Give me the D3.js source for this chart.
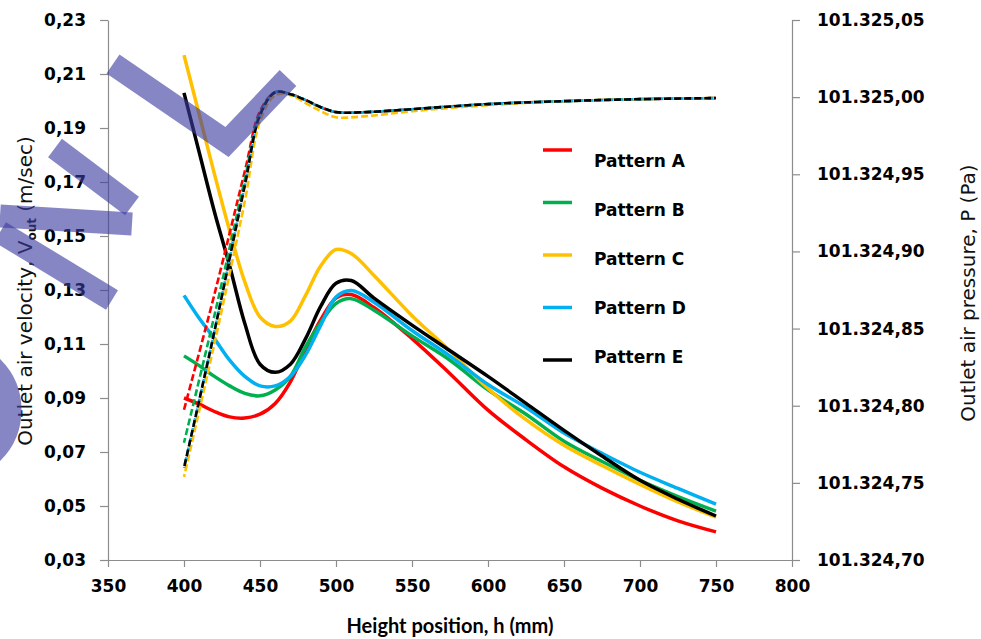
<!DOCTYPE html>
<html>
<head>
<meta charset="utf-8">
<script src="https://cdn.jsdelivr.net/npm/d3@7"></script>
<style>
  body { margin: 0; background: #fff; }
  svg { display: block; }
  .axis path, .axis line { stroke: #8c8c8c; stroke-width: 1.2; }
  .axis text { font-family: "DejaVu Sans", sans-serif; font-weight: bold; font-size: 17px; fill: #000; }
</style>
</head>
<body>
<svg id="chart" width="981" height="639"></svg>
<script>
// Height positions (mm) used for the velocity curves
const heights = [400, 410, 420, 430, 440, 450, 460, 470, 480, 490, 500, 510, 525, 550, 575, 600, 625, 650, 675, 700, 725, 750];

// Outlet air velocity (m/sec), one array per pattern
const velA = [0.090, 0.0877, 0.085, 0.083, 0.0826, 0.084, 0.088, 0.096, 0.108, 0.119, 0.127, 0.1283, 0.1235, 0.112, 0.099, 0.0855, 0.0745, 0.0645, 0.0566, 0.050, 0.0445, 0.0404];
const velB = [0.1056, 0.102, 0.098, 0.0945, 0.0917, 0.0908, 0.093, 0.098, 0.109, 0.118, 0.125, 0.1268, 0.1225, 0.113, 0.104, 0.093, 0.084, 0.074, 0.0665, 0.0595, 0.0535, 0.0481];
const velC = [0.217, 0.195, 0.173, 0.152, 0.133, 0.120, 0.1165, 0.1185, 0.128, 0.139, 0.145, 0.1435, 0.1354, 0.1205, 0.1075, 0.0935, 0.082, 0.0725, 0.065, 0.058, 0.0515, 0.0459];
const velD = [0.128, 0.1195, 0.112, 0.104, 0.098, 0.0945, 0.0945, 0.098, 0.106, 0.117, 0.1274, 0.1298, 0.1255, 0.115, 0.1055, 0.095, 0.0865, 0.077, 0.0695, 0.0625, 0.0565, 0.0507];
const velE = [0.203, 0.181, 0.159, 0.139, 0.1176, 0.1025, 0.0995, 0.1025, 0.112, 0.124, 0.1325, 0.1335, 0.127, 0.117, 0.1075, 0.098, 0.088, 0.078, 0.0685, 0.0595, 0.0525, 0.0463];

// Height positions (mm) used for the pressure curves
const pHeights = [400, 420, 440, 450, 460, 470, 480, 490, 500, 520, 550, 600, 650, 700, 750];

// Outlet air pressure (Pa), dashed curves
const presA = [101324.7974, 101324.8721, 101324.9519, 101324.9909, 101325.0032, 101325.0019, 101324.9981, 101324.9935, 101324.9903, 101324.9903, 101324.9922, 101324.9955, 101324.9974, 101324.9987, 101324.9994];
const presB = [101324.7760, 101324.8584, 101324.9468, 101324.9896, 101325.0032, 101325.0019, 101324.9981, 101324.9935, 101324.9903, 101324.9903, 101324.9922, 101324.9955, 101324.9974, 101324.9987, 101324.9994];
const presC = [101324.7539, 101324.8403, 101324.9325, 101324.9844, 101325.0013, 101325.0013, 101324.9961, 101324.9909, 101324.9870, 101324.9877, 101324.9909, 101324.9948, 101324.9974, 101324.9987, 101324.9994];
const presD = [101324.7597, 101324.8481, 101324.9429, 101324.9883, 101325.0032, 101325.0019, 101324.9981, 101324.9935, 101324.9903, 101324.9903, 101324.9922, 101324.9955, 101324.9974, 101324.9987, 101324.9994];
const presE = [101324.7597, 101324.8481, 101324.9429, 101324.9883, 101325.0032, 101325.0019, 101324.9981, 101324.9935, 101324.9903, 101324.9903, 101324.9922, 101324.9955, 101324.9974, 101324.9987, 101324.9994];

const patterns = ["Pattern A", "Pattern B", "Pattern C", "Pattern D", "Pattern E"];
const colors = ["#ff0000", "#00b050", "#ffc000", "#00b0f0", "#000000"];

const hTicks = [350, 400, 450, 500, 550, 600, 650, 700, 750, 800];
const velTicks = [0.03, 0.05, 0.07, 0.09, 0.11, 0.13, 0.15, 0.17, 0.19, 0.21, 0.23];
const presTicks = [101324.70, 101324.75, 101324.80, 101324.85, 101324.90, 101324.95, 101325.00, 101325.05];

const velSeries = [velA, velB, velC, velD, velE];
const presSeries = [presA, presB, presC, presD, presE];

const svg = d3.select("#chart");
const plotLeft = 108, plotRight = 792, plotTop = 20, plotBottom = 560;

const x = d3.scaleLinear().domain([350, 800]).range([plotLeft, plotRight]);
const yV = d3.scaleLinear().domain([0.03, 0.23]).range([plotBottom, plotTop]);
const yP = d3.scaleLinear().domain([101324.70, 101325.05]).range([plotBottom, plotTop]);

const euro = d3.formatLocale({ decimal: ",", thousands: ".", grouping: [3], currency: ["", ""] });

// axes
svg.append("g").attr("class", "axis")
  .attr("transform", `translate(0,${plotBottom})`)
  .call(d3.axisBottom(x).tickValues(hTicks).tickSize(7).tickSizeOuter(0).tickPadding(13).tickFormat(d3.format("d")));

svg.append("g").attr("class", "axis")
  .attr("transform", `translate(${plotLeft},0)`)
  .call(d3.axisLeft(yV).tickValues(velTicks).tickSize(8).tickSizeOuter(0).tickPadding(14)
    .tickFormat(d => d3.format(".2f")(d).replace(".", ",")));

svg.append("g").attr("class", "axis")
  .attr("transform", `translate(${plotRight},0)`)
  .call(d3.axisRight(yP).tickValues(presTicks).tickSize(8).tickSizeOuter(0).tickPadding(17)
    .tickFormat(euro.format(",.2f")));

// curves (smoothed like the spreadsheet original)
const velLine = d3.line().x((d, i) => x(heights[i])).y(d => yV(d)).curve(d3.curveCatmullRom.alpha(0.5));
const presLine = d3.line().x((d, i) => x(pHeights[i])).y(d => yP(d)).curve(d3.curveCatmullRom.alpha(0.5));

svg.append("g").selectAll("path")
  .data(velSeries)
  .join("path")
    .attr("d", velLine)
    .attr("fill", "none")
    .attr("stroke", (d, i) => colors[i])
    .attr("stroke-width", 3.5);

svg.append("g").selectAll("path")
  .data(presSeries)
  .join("path")
    .attr("d", presLine)
    .attr("fill", "none")
    .attr("stroke", (d, i) => colors[i])
    .attr("stroke-width", 2.6)
    .attr("stroke-dasharray", "7,3")
    .attr("stroke-dashoffset", (d, i) => i * 2);

// legend
const legend = svg.append("g").selectAll("g")
  .data(patterns)
  .join("g");
legend.append("line")
  .attr("x1", 543).attr("x2", 572)
  .attr("y1", (d, i) => 150 + i * 52.5).attr("y2", (d, i) => 150 + i * 52.5)
  .attr("stroke", (d, i) => colors[i])
  .attr("stroke-width", 3.5);
legend.append("text")
  .attr("x", 594)
  .attr("y", (d, i) => 161 + i * 49)
  .attr("dy", "0.36em")
  .style("font-family", "'DejaVu Sans', sans-serif")
  .style("font-weight", "bold")
  .style("font-size", "17px")
  .text(d => d);

// axis titles
const yTitle = svg.append("text")
  .attr("transform", "translate(32,291) rotate(-90)")
  .attr("text-anchor", "middle")
  .style("font-family", "'DejaVu Sans', sans-serif")
  .style("font-size", "20px")
  .style("fill", "#111");
yTitle.append("tspan").text("Outlet air velocity, V");
yTitle.append("tspan").text("out").style("font-size", "12px").style("font-weight", "bold").attr("dy", 4);
yTitle.append("tspan").text(" (m/sec)").attr("dy", -4);

svg.append("text")
  .attr("transform", "translate(975,293) rotate(-90)")
  .attr("text-anchor", "middle")
  .style("font-family", "'DejaVu Sans', sans-serif")
  .style("font-size", "20px")
  .style("fill", "#111")
  .text("Outlet air pressure, P (Pa)");

svg.append("text")
  .attr("x", 450).attr("y", 633)
  .attr("text-anchor", "middle")
  .style("font-family", "Lato, sans-serif")
  .style("font-weight", "bold")
  .style("font-size", "20px")
  .text("Height position, h (mm)");

// watermark strokes
const mark = svg.append("g")
  .attr("fill", "none")
  .attr("stroke", "#3c3ca0")
  .attr("stroke-opacity", 0.62)
  .attr("stroke-width", 23);
mark.append("polyline").attr("points", "113,64 227,142 288,78").attr("stroke-linejoin", "miter");
mark.append("line").attr("x1", 55).attr("y1", 148).attr("x2", 132).attr("y2", 206);
mark.append("line").attr("x1", 0).attr("y1", 216).attr("x2", 132).attr("y2", 224);
mark.append("line").attr("x1", 0).attr("y1", 232).attr("x2", 112).attr("y2", 300);
mark.append("circle").attr("cx", -50).attr("cy", 410).attr("r", 60);
</script>
</body>
</html>
